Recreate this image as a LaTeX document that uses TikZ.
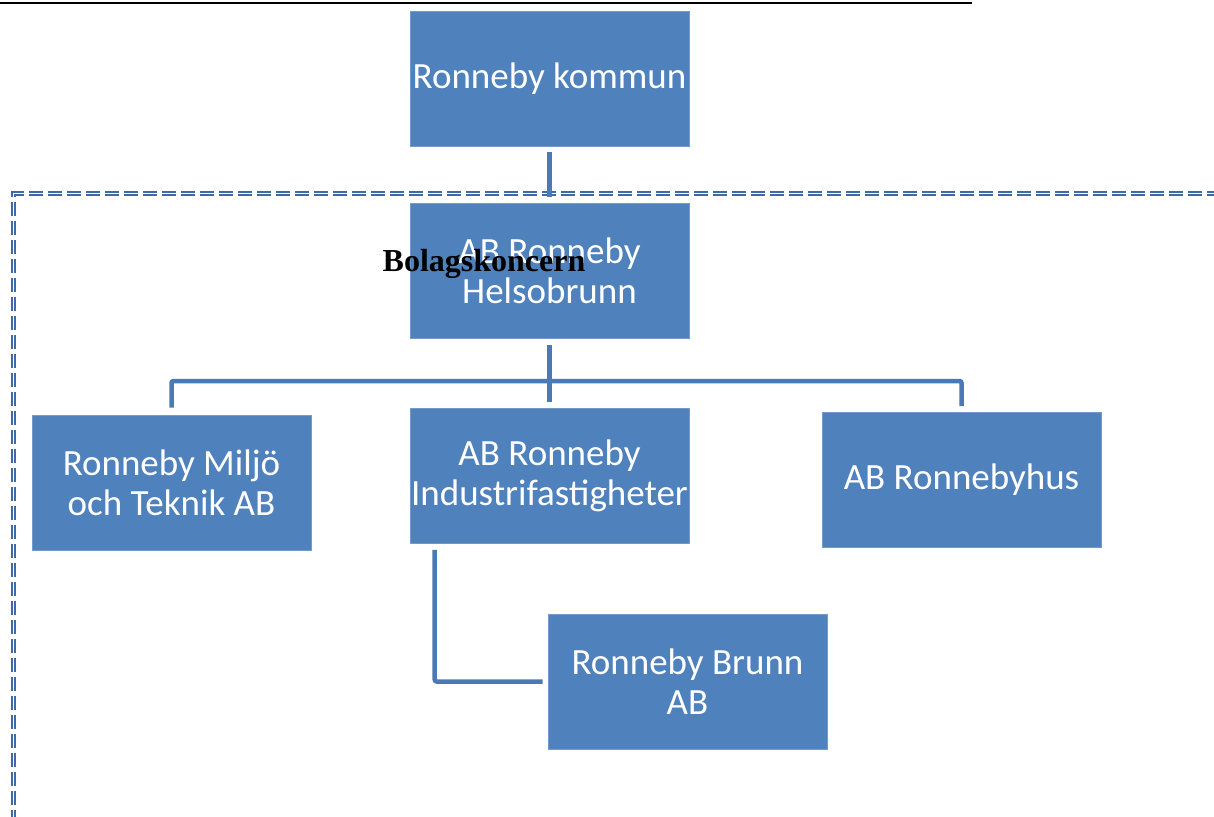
\documentclass[tikz,border=0pt]{standalone}
\usepackage{fontspec}
\newfontfamily\calfont{Carlito}
\newfontfamily\timesfont{Liberation Serif}
\usetikzlibrary{positioning}
\definecolor{boxblue}{HTML}{4F81BD}
\definecolor{lineblue}{HTML}{4A7AB5}
\definecolor{framebl}{HTML}{3E6AA6}
\tikzset{
    orgbox/.style={rectangle, fill=boxblue, draw=boxblue!80!white, line width=0.6pt, minimum width=279pt, minimum height=135pt, inner sep=0pt, align=center, text=white, font=\calfont\fontsize{37}{40}\selectfont},
    conn/.style={draw=lineblue, line width=4.5pt, rounded corners=2pt},
    frame/.style={draw=framebl, double=white, double distance=1.6pt, line width=1.3pt, dash pattern=on 14pt off 5pt},
    title/.style={font=\timesfont\bfseries\fontsize{32}{36}\selectfont, anchor=base}
}
\begin{document}
\begin{tikzpicture}[x=1pt, y=-1pt]
\useasboundingbox (0,0) rectangle (1214,816);

% Frame of the group
\begin{scope}
\clip (0,0) rectangle (1214,816);
\draw [frame] (1240,193.5) -- (13.5,193.5) -- (13.5,840);
\end{scope}

% Line at the top
\draw [line width=2.5pt] (0,3) -- (972,3);

% Nodes
\node (kommun) [orgbox] at (549.5,78.5) {Ronneby kommun};
\node (helso) [orgbox] at (549.5,270.5) {AB Ronneby\\Helsobrunn};
\node (industri) [orgbox] at (549.5,476) {AB Ronneby\\Industrifastigheter};
\node (miljo) [orgbox] at (171.5,482.5) {Ronneby Milj\"o\\och Teknik AB};
\node (hus) [orgbox] at (961.5,480) {AB Ronnebyhus};
\node (brunn) [orgbox] at (687.5,681.5) {Ronneby Brunn\\AB};

% Connectors
\draw [conn] ([yshift=-6pt]kommun.south) -- ([yshift=6pt]helso.north);
\draw [conn] ([yshift=-7pt]helso.south) -- ([yshift=6pt]industri.north);
\coordinate (bar) at (549.5,381);
\draw [conn] ([yshift=7pt]miljo.north) |- (bar) -| ([yshift=6pt]hus.north);
\draw [conn] ([xshift=25pt, yshift=-6pt]industri.south west) |- ([xshift=-5pt]brunn.west);

% Label
\node (koncern) [title] at (484,271) {Bolagskoncern};

\end{tikzpicture}
\end{document}
